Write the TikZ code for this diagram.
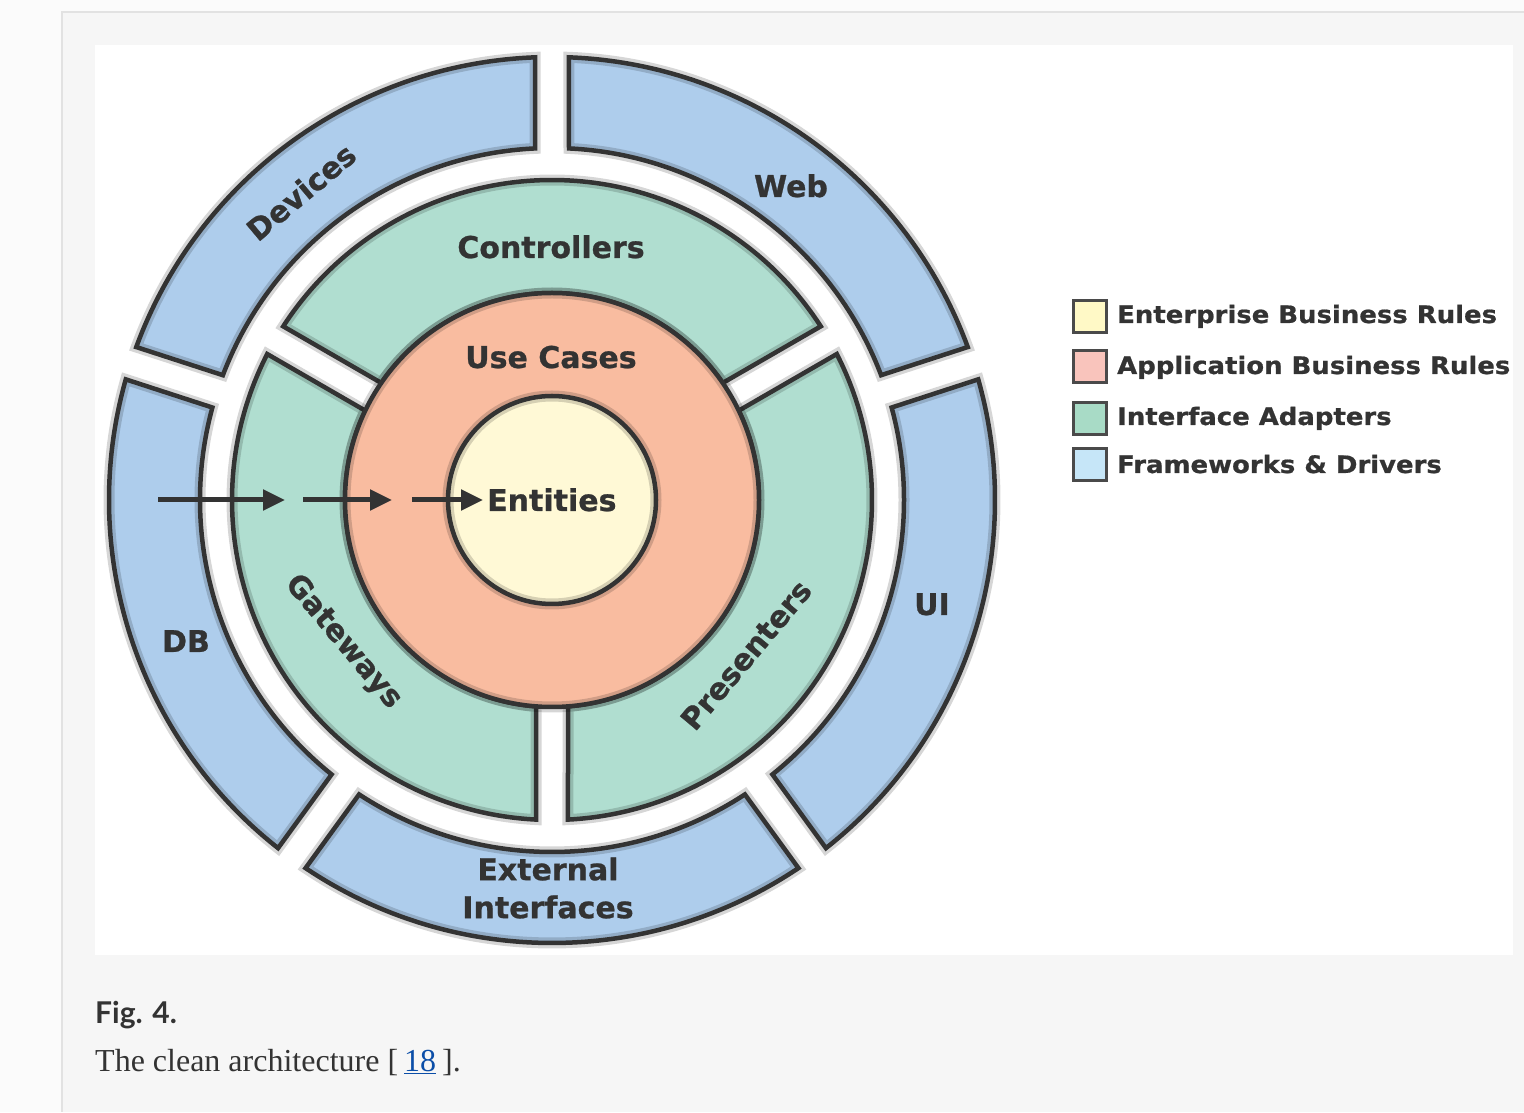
\documentclass[tikz,border=0pt]{standalone}
\usepackage{fontspec}
\setmainfont{Liberation Serif}
\newfontfamily\dvs{DejaVu Sans}[BoldFeatures={FakeBold=0.8}]
\newfontfamily\dvsw{DejaVu Sans}[FakeStretch=1.08,BoldFeatures={FakeBold=0.8}]
\newfontfamily\latof{Lato}
\usetikzlibrary{arrows.meta}
\definecolor{pagebg}{HTML}{F6F6F6}
\definecolor{outerbg}{HTML}{FBFBFB}
\definecolor{borderc}{HTML}{E2E2E2}
\definecolor{bluefill}{HTML}{AECDEC}
\definecolor{greenfill}{HTML}{B0DED0}
\definecolor{orangefill}{HTML}{F9BCA0}
\definecolor{yellowfill}{HTML}{FFF9D6}
\definecolor{strokec}{HTML}{333333}
\definecolor{textc}{HTML}{333333}
\definecolor{legyellow}{HTML}{FFF9C6}
\definecolor{legpink}{HTML}{F9C4BC}
\definecolor{leggreen}{HTML}{A8DBC6}
\definecolor{legblue}{HTML}{C6E6F8}
\definecolor{legline}{HTML}{4A4A4A}
\definecolor{linkc}{HTML}{0B4EA8}
\definecolor{captc}{HTML}{333333}
\tikzset{
  segfill/.style={fill=#1},
  seghalo/.style={draw=black, draw opacity=0.16, line width=11pt},
  segline/.style={draw=strokec, line width=4.5pt},
  lbl/.style={font=\dvs\bfseries\fontsize{30}{38}\selectfont, text=textc, inner sep=0pt},
  legtext/.style={font=\dvsw\bfseries\fontsize{24}{28}\selectfont, text=textc, inner sep=0pt, anchor=base west},
  legbox/.style={draw=legline, line width=3pt, minimum width=33pt, minimum height=32pt, inner sep=0pt},
  flow/.style={draw=strokec, line width=5pt, -{Triangle[length=22pt,width=20pt]}}
}
\newcommand\ringseg[6]{%
  \pgfmathsetmacro\rsoa{#1+asin(#5/#4)}%
  \pgfmathsetmacro\rsob{#2-asin(#5/#4)}%
  \pgfmathsetmacro\rsia{#1+asin(#5/#3)}%
  \pgfmathsetmacro\rsib{#2-asin(#5/#3)}%
  \path[segfill=#6] (\rsoa:#4pt) arc[start angle=\rsoa, end angle=\rsob, radius=#4pt]
    -- (\rsib:#3pt) arc[start angle=\rsib, end angle=\rsia, radius=#3pt] -- cycle;
  \path[seghalo] (\rsoa:#4pt) arc[start angle=\rsoa, end angle=\rsob, radius=#4pt]
    -- (\rsib:#3pt) arc[start angle=\rsib, end angle=\rsia, radius=#3pt] -- cycle;
  \path[segline] (\rsoa:#4pt) arc[start angle=\rsoa, end angle=\rsob, radius=#4pt]
    -- (\rsib:#3pt) arc[start angle=\rsib, end angle=\rsia, radius=#3pt] -- cycle;
}
\begin{document}
\begin{tikzpicture}[x=1pt,y=1pt]
\useasboundingbox (0,0) rectangle (1524,1112);
\fill[outerbg] (0,0) rectangle (1524,1112);
\fill[pagebg] (62,0) rectangle (1524,1100);
\draw[borderc, line width=2.5pt] (62,0) -- (62,1100) -- (1524,1100);
\fill[white] (95,157) rectangle (1513,1067);

\begin{scope}[shift={(552,612)}]
  % outer ring: Frameworks & Drivers
  \ringseg{18}{90}{352}{443}{17}{bluefill}
  \ringseg{90}{162}{352}{443}{17}{bluefill}
  \ringseg{162}{234}{352}{443}{17}{bluefill}
  \ringseg{234}{306}{352}{443}{17}{bluefill}
  \ringseg{-54}{18}{352}{443}{17}{bluefill}
  % interface adapters
  \ringseg{30}{150}{207}{320}{16}{greenfill}
  \ringseg{150}{270}{207}{320}{16}{greenfill}
  \ringseg{-90}{30}{207}{320}{16}{greenfill}
  % use cases
  \fill[orangefill] (0,0) circle[radius=207pt];
  \draw[seghalo] (0,0) circle[radius=207pt];
  \draw[segline] (0,0) circle[radius=207pt];
  % entities
  \fill[yellowfill] (0,0) circle[radius=104pt];
  \draw[seghalo] (0,0) circle[radius=104pt];
  \draw[segline] (0,0) circle[radius=104pt];

  % labels
  \node[lbl, anchor=base] (ctrl) at (-1,242) {Controllers};
  \node[lbl, anchor=base] (uc) at (-1,132) {Use Cases};
  \node[lbl, anchor=base west] (ent) at (-65,-11) {Entities};
  \node[lbl, anchor=base] (web) at (239,303) {Web};
  \node[lbl, anchor=base] (ui) at (380,-115) {UI};
  \node[lbl, anchor=base] (db) at (-366,-152) {DB};
  \node[lbl, align=center] (ext) at (-4,-388) {External\\Interfaces};
  \node[lbl, rotate=40] (dev) at (-251,308) {Devices};
  \node[lbl, rotate=-50] (gw) at (-209,-142) {Gateways};
  \node[lbl, rotate=50] (pres) at (194,-155) {Presenters};

  % dependency arrows
  \coordinate (a1s) at (-394,0);
  \coordinate (a1e) at (-267,0);
  \coordinate (a2s) at (-249,0);
  \coordinate (a2e) at (-160,0);
  \coordinate (a3s) at (-140,0);
  \coordinate (a3e) at (-69,0);
  \draw[flow] (a1s) -- (a1e);
  \draw[flow] (a2s) -- (a2e);
  \draw[flow] (a3s) -- (a3e);
\end{scope}

% legend
\node[legbox, fill=legyellow] (l1) at (1089.5,795) {};
\node[legbox, fill=legpink] (l2) at (1089.5,745) {};
\node[legbox, fill=leggreen] (l3) at (1089.5,693) {};
\node[legbox, fill=legblue] (l4) at (1089.5,647) {};
\node[legtext] (t1) at (1117,789) {Enterprise Business Rules};
\node[legtext] (t2) at (1117,738) {Application Business Rules};
\node[legtext] (t3) at (1117,687) {Interface Adapters};
\node[legtext] (t4) at (1117,639) {Frameworks \& Drivers};

% caption
\node[anchor=base west, inner sep=0pt, font=\latof\bfseries\fontsize{30}{36}\selectfont, text=captc] (fig) at (95,89) {Fig. 4.};
\node[anchor=base west, inner sep=0pt, font=\fontsize{32}{38}\selectfont, text=captc] (capt) at (95,41)
  {The clean architecture [\hspace{6pt}{\color{linkc}\underline{18}}\hspace{6pt}].};
\end{tikzpicture}
\end{document}
